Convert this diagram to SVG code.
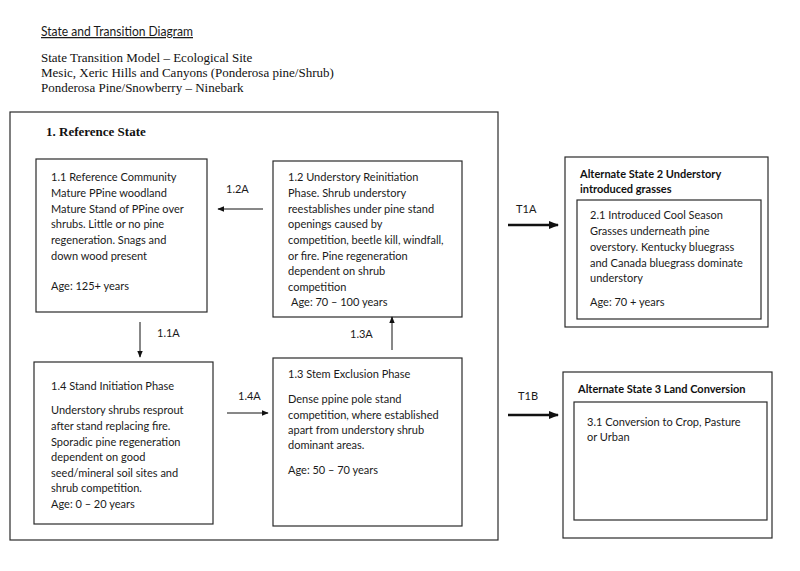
<svg xmlns="http://www.w3.org/2000/svg" width="800" height="571" viewBox="0 0 800 571">
<defs>
<style>
.box{fill:none;stroke:#2a2a2a;stroke-width:1.2}
.t{font-family:Lato,"Liberation Sans",sans-serif;font-size:11px;fill:#1a1a1a}
.tb{font-family:Lato,"Liberation Sans",sans-serif;font-size:11px;font-weight:bold;fill:#111}
.s{font-family:"Liberation Serif",serif;font-size:13px;fill:#111}
.sb{font-family:"Liberation Serif",serif;font-size:13px;font-weight:bold;fill:#111}
.ln{stroke:#111;stroke-width:1;fill:none}
.thick{stroke:#111;stroke-width:2.5;fill:none}
</style>
<marker id="ah" viewBox="0 0 10 10" refX="9" refY="5" markerWidth="7" markerHeight="7" markerUnits="userSpaceOnUse" orient="auto"><path d="M0,1 L10,5 L0,9 z" fill="#111"/></marker>
<marker id="ahb" viewBox="0 0 10 10" refX="9" refY="5" markerWidth="4" markerHeight="4" orient="auto"><path d="M0,1 L10,5 L0,9 z" fill="#111"/></marker>
</defs>
<rect width="800" height="571" fill="#fff"/>
<g id="header">
<text class="t" x="41" y="36" style="font-size:12.5px;text-decoration:underline" textLength="152" lengthAdjust="spacingAndGlyphs">State and Transition Diagram</text>
<text class="s" x="41" y="62">State Transition Model – Ecological Site</text>
<text class="s" x="41" y="77">Mesic, Xeric Hills and Canyons (Ponderosa pine/Shrub)</text>
<text class="s" x="41" y="92">Ponderosa Pine/Snowberry – Ninebark</text>
</g>
<g id="state1">
<rect class="box" x="10" y="112" width="488" height="428"/>
<text class="sb" x="46" y="136">1. Reference State</text>
</g>
<g id="phase11">
<rect class="box" x="36" y="159" width="171" height="153"/>
<text class="t" x="51" y="181">1.1 Reference Community</text>
<text class="t" x="51" y="197">Mature PPine woodland</text>
<text class="t" x="51" y="213">Mature Stand of PPine over</text>
<text class="t" x="51" y="228">shrubs. Little or no pine</text>
<text class="t" x="51" y="244">regeneration. Snags and</text>
<text class="t" x="51" y="260">down wood present</text>
<text class="t" x="51" y="290">Age: 125+ years</text>
</g>
<g id="phase12">
<rect class="box" x="273" y="161" width="189" height="156"/>
<text class="t" x="288" y="181">1.2 Understory Reinitiation</text>
<text class="t" x="288" y="197">Phase. Shrub understory</text>
<text class="t" x="288" y="213">reestablishes under pine stand</text>
<text class="t" x="288" y="228">openings caused by</text>
<text class="t" x="288" y="244">competition, beetle kill, windfall,</text>
<text class="t" x="288" y="260">or fire. Pine regeneration</text>
<text class="t" x="288" y="275">dependent on shrub</text>
<text class="t" x="288" y="291">competition</text>
<text class="t" x="291" y="306">Age: 70 – 100 years</text>
</g>
<g id="phase14">
<rect class="box" x="34" y="362" width="179" height="162"/>
<text class="t" x="51" y="390">1.4 Stand Initiation Phase</text>
<text class="t" x="51" y="414">Understory shrubs resprout</text>
<text class="t" x="51" y="430">after stand replacing fire.</text>
<text class="t" x="51" y="446">Sporadic pine regeneration</text>
<text class="t" x="51" y="461">dependent on good</text>
<text class="t" x="51" y="477">seed/mineral soil sites and</text>
<text class="t" x="51" y="492">shrub competition.</text>
<text class="t" x="51" y="508">Age: 0 – 20 years</text>
</g>
<g id="phase13">
<rect class="box" x="273" y="358" width="189" height="168"/>
<text class="t" x="288" y="378">1.3 Stem Exclusion Phase</text>
<text class="t" x="288" y="403">Dense ppine pole stand</text>
<text class="t" x="288" y="419">competition, where established</text>
<text class="t" x="288" y="434">apart from understory shrub</text>
<text class="t" x="288" y="449">dominant areas.</text>
<text class="t" x="288" y="474">Age: 50 – 70 years</text>
</g>
<g id="state2">
<rect class="box" x="565" y="157" width="203" height="170"/>
<text class="tb" x="580" y="178">Alternate State 2 Understory</text>
<text class="tb" x="580" y="193">introduced grasses</text>
<rect class="box" x="577" y="200" width="184" height="119"/>
<text class="t" x="590" y="219">2.1 Introduced Cool Season</text>
<text class="t" x="590" y="235">Grasses underneath pine</text>
<text class="t" x="590" y="251">overstory. Kentucky bluegrass</text>
<text class="t" x="590" y="267">and Canada bluegrass dominate</text>
<text class="t" x="590" y="282">understory</text>
<text class="t" x="590" y="306">Age: 70 + years</text>
</g>
<g id="state3">
<rect class="box" x="563" y="372" width="209" height="166"/>
<text class="tb" x="578" y="393">Alternate State 3 Land Conversion</text>
<rect class="box" x="574" y="402" width="193" height="118"/>
<text class="t" x="587" y="426">3.1 Conversion to Crop, Pasture</text>
<text class="t" x="587" y="441">or Urban</text>
</g>
<g id="connectors">
<line class="ln" x1="263" y1="209" x2="218" y2="209" marker-end="url(#ah)"/>
<text class="t" x="226" y="193">1.2A</text>
<line class="ln" x1="140" y1="322" x2="140" y2="357" marker-end="url(#ah)"/>
<text class="t" x="157" y="337">1.1A</text>
<line class="ln" x1="392" y1="350" x2="392" y2="317" marker-end="url(#ah)"/>
<text class="t" x="350" y="338">1.3A</text>
<line class="ln" x1="227" y1="413" x2="268" y2="413" marker-end="url(#ah)"/>
<text class="t" x="238" y="400">1.4A</text>
<line class="thick" x1="508" y1="225" x2="558" y2="225" marker-end="url(#ahb)"/>
<text class="t" x="516" y="213">T1A</text>
<line class="thick" x1="508" y1="415" x2="558" y2="415" marker-end="url(#ahb)"/>
<text class="t" x="518" y="400">T1B</text>
</g>
</svg>
